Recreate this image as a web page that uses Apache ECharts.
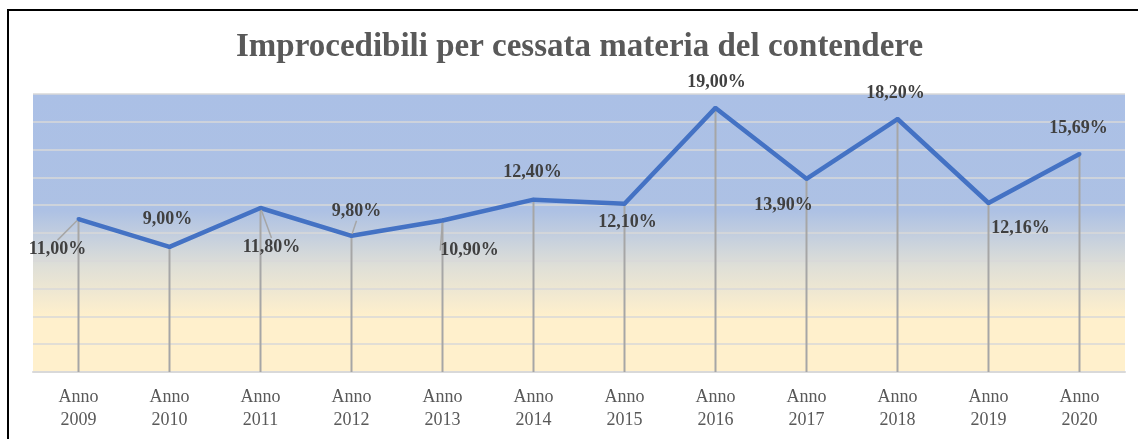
<!DOCTYPE html>
<html>
<head>
<meta charset="utf-8">
<script src="https://cdn.jsdelivr.net/npm/echarts@6/dist/echarts.min.js"></script>
<style>
  html, body { margin: 0; padding: 0; background: #fff; }
  #main { width: 1138px; height: 439px; }
</style>
</head>
<body>
<div id="main"></div>
<script>
// dati
var anni = ['Anno\n2009', 'Anno\n2010', 'Anno\n2011', 'Anno\n2012', 'Anno\n2013', 'Anno\n2014',
            'Anno\n2015', 'Anno\n2016', 'Anno\n2017', 'Anno\n2018', 'Anno\n2019', 'Anno\n2020'];
var percentuali = [11.00, 9.00, 11.80, 9.80, 10.90, 12.40, 12.10, 19.00, 13.90, 18.20, 12.16, 15.69];
// spostamento delle etichette rispetto al punto
var spostaEtichette = [[-21, 30], [-2, -28], [11, 39], [5, -24], [27, 30], [-1, -27],
                       [3, 19], [1, -26], [-23, 27], [-2, -26], [32, 25], [-1, -26]];
var conLinea = [true, false, true, true, true, false, false, false, false, false, false, false];

var myChart = echarts.init(document.getElementById('main'));

var serif = 'Liberation Serif';

var option = {
  animation: false,
  title: {
    text: 'Improcedibili per cessata materia del contendere',
    left: 231,
    top: 26,
    textStyle: {
      fontFamily: serif,
      fontSize: 33,
      fontWeight: 'bold',
      color: '#595959'
    }
  },
  graphic: [{
    type: 'polyline',
    shape: { points: [[8, 439], [8, 10], [1138, 10]] },
    style: { stroke: '#000', lineWidth: 2, fill: null }
  }],
  grid: {
    left: 33,
    right: 13,
    top: 94,
    bottom: 67,
    show: true,
    borderWidth: 0,
    backgroundColor: new echarts.graphic.LinearGradient(0, 0, 0, 1, [
      { offset: 0, color: '#abc0e6' },
      { offset: 0.42, color: '#adc1e4' },
      { offset: 0.62, color: '#dfdfd7' },
      { offset: 0.8, color: '#fff0cc' },
      { offset: 1, color: '#fff0cc' }
    ])
  },
  xAxis: {
    type: 'category',
    data: anni,
    boundaryGap: true,
    axisLine: { show: true, lineStyle: { color: '#d9d9d9', width: 2 } },
    axisTick: { show: false },
    axisLabel: {
      fontFamily: serif,
      fontSize: 18,
      color: '#595959',
      lineHeight: 23,
      margin: 14,
      interval: 0
    }
  },
  yAxis: {
    type: 'value',
    min: 0,
    max: 20,
    interval: 2,
    axisLabel: { show: false },
    axisLine: { show: false },
    axisTick: { show: false },
    splitLine: { lineStyle: { color: '#d9d9d9', width: 1.5 } }
  },
  series: [{
    // linee di riferimento verticali
    type: 'bar',
    data: percentuali,
    barWidth: 2,
    itemStyle: { color: '#a6a6a6' },
    silent: true,
    z: 1
  }, {
    type: 'line',
    data: percentuali.map(function (v, i) {
      return { value: v, labelLine: { show: conLinea[i] } };
    }),
    symbol: 'circle',
    symbolSize: 4,
    showSymbol: true,
    itemStyle: { color: '#4472c4' },
    lineStyle: { color: '#4472c4', width: 4.5 },
    z: 3,
    label: {
      show: true,
      position: 'inside',
      fontFamily: serif,
      fontSize: 18,
      fontWeight: 'bold',
      color: '#404040',
      formatter: function (p) {
        return p.value.toFixed(2).replace('.', ',') + '%';
      }
    },
    labelLine: {
      show: true,
      lineStyle: { color: '#a6a6a6', width: 1.5 }
    },
    labelLayout: function (p) {
      var s = spostaEtichette[p.dataIndex];
      return { dx: s[0], dy: s[1] };
    }
  }]
};

myChart.setOption(option);
</script>
</body>
</html>
